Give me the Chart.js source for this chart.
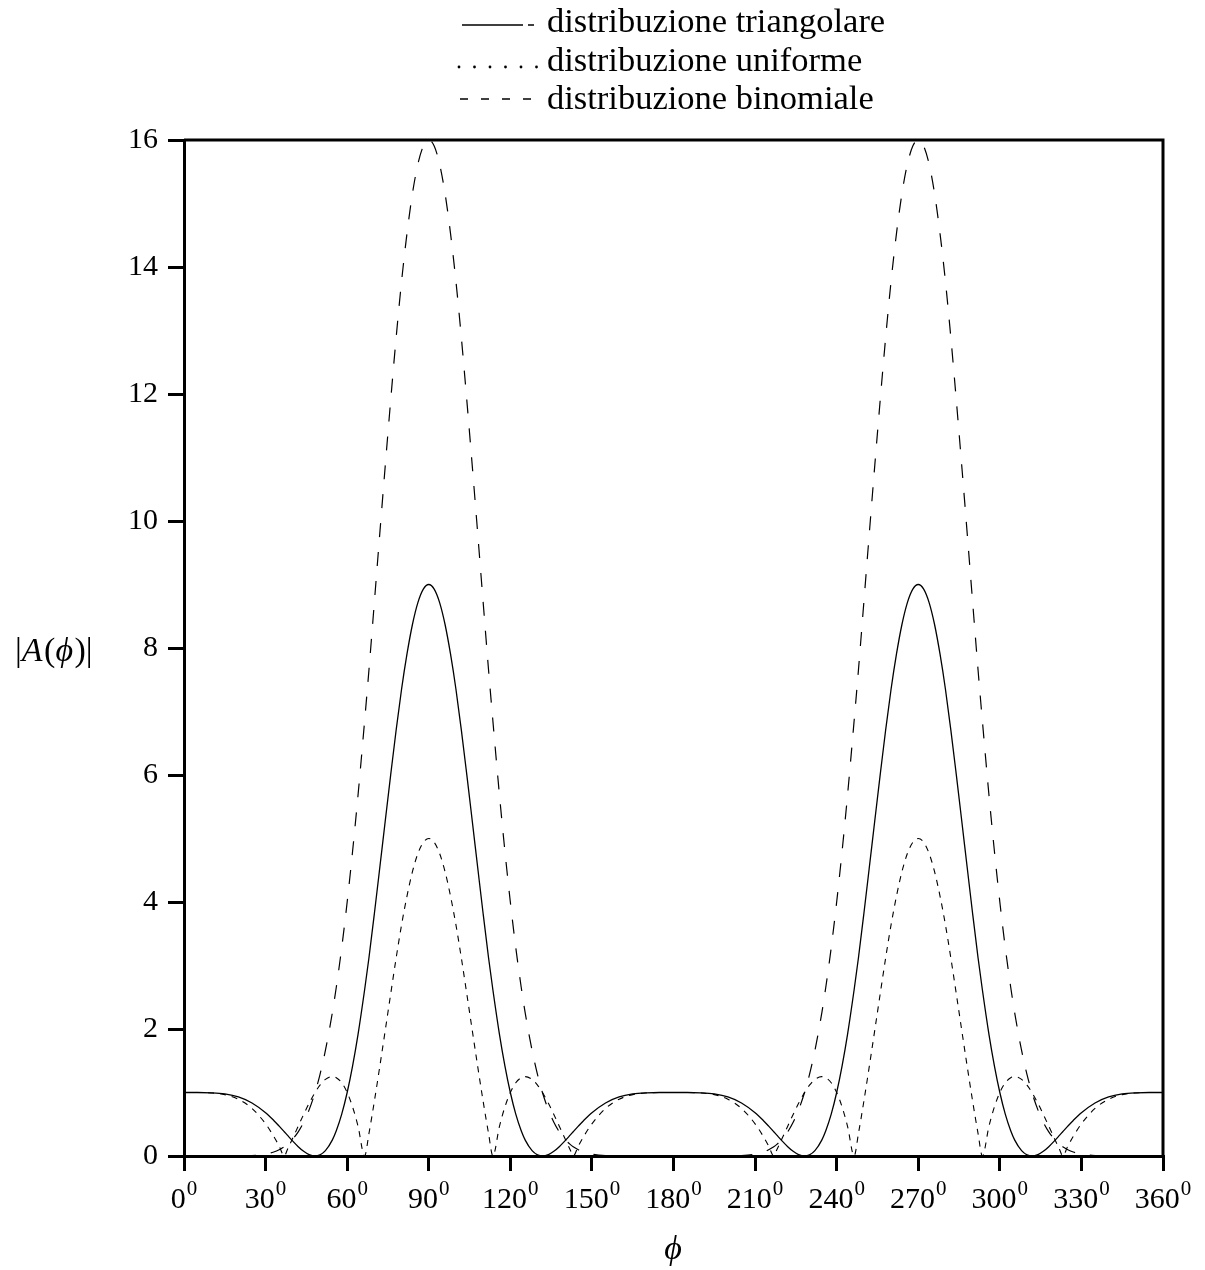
<!DOCTYPE html>
<html>
<head>
<meta charset="utf-8">
<script src="https://cdn.jsdelivr.net/npm/chart.js@4/dist/chart.umd.min.js"></script>
<style>
  html, body { margin: 0; padding: 0; background: #fff; }
  #myChart { display: block; }
</style>
</head>
<body>
<canvas id="myChart" width="1205" height="1270"></canvas>
<script>
// angle phi in degrees, values of |A(phi)|
const angles = [
    0, 5, 10, 15, 20, 25, 30, 33, 35, 36.87, 38, 40, 42, 44, 46, 48.19, 50, 52, 54.52, 56, 58, 60, 62, 64, 66.42, 68, 70, 72, 74, 76, 78, 80, 82, 84, 86, 88, 90,
    92, 94, 96, 98, 100, 102, 104, 106, 108, 110, 112, 113.58, 116, 118, 120, 122, 124, 125.48, 128, 130, 131.81, 134, 136, 138, 140, 142, 143.13, 145, 147, 150, 155, 160, 165, 170, 175, 180,
    185, 190, 195, 200, 205, 210, 213, 215, 216.87, 218, 220, 222, 224, 226, 228.19, 230, 232, 234.52, 236, 238, 240, 242, 244, 246.42, 248, 250, 252, 254, 256, 258, 260, 262, 264, 266, 268, 270,
    272, 274, 276, 278, 280, 282, 284, 286, 288, 290, 292, 293.58, 296, 298, 300, 302, 304, 305.48, 308, 310, 311.81, 314, 316, 318, 320, 322, 323.13, 325, 327, 330, 335, 340, 345, 350, 355, 360
];

const triangolare = [
    1, 1, 0.995, 0.977, 0.93, 0.835, 0.681, 0.56, 0.47, 0.382, 0.328, 0.234, 0.147, 0.074, 0.022, 0, 0.018, 0.084, 0.25, 0.397, 0.659, 1, 1.42, 1.916, 2.618, 3.118, 3.815, 4.543, 5.275, 6.001, 6.704, 7.35, 7.906, 8.37, 8.715, 8.928, 9,
    8.928, 8.715, 8.37, 7.906, 7.35, 6.704, 6.001, 5.275, 4.543, 3.815, 3.118, 2.618, 1.916, 1.42, 1, 0.659, 0.397, 0.25, 0.084, 0.018, 0, 0.022, 0.074, 0.147, 0.234, 0.328, 0.382, 0.47, 0.56, 0.681, 0.835, 0.93, 0.977, 0.995, 1, 1,
    1, 0.995, 0.977, 0.93, 0.835, 0.681, 0.56, 0.47, 0.382, 0.328, 0.234, 0.147, 0.074, 0.022, 0, 0.018, 0.084, 0.25, 0.397, 0.659, 1, 1.42, 1.916, 2.618, 3.118, 3.815, 4.543, 5.275, 6.001, 6.704, 7.35, 7.906, 8.37, 8.715, 8.928, 9,
    8.928, 8.715, 8.37, 7.906, 7.35, 6.704, 6.001, 5.275, 4.543, 3.815, 3.118, 2.618, 1.916, 1.42, 1, 0.659, 0.397, 0.25, 0.084, 0.018, 0, 0.022, 0.074, 0.147, 0.234, 0.328, 0.382, 0.47, 0.56, 0.681, 0.835, 0.93, 0.977, 0.995, 1, 1
];

const uniforme = [
    1, 1, 0.993, 0.966, 0.894, 0.749, 0.507, 0.309, 0.156, 0, 0.1, 0.282, 0.469, 0.655, 0.83, 1, 1.115, 1.206, 1.25, 1.233, 1.153, 1, 0.772, 0.468, 0, 0.352, 0.862, 1.411, 1.978, 2.551, 3.115, 3.639, 4.094, 4.477, 4.763, 4.94, 5,
    4.94, 4.763, 4.477, 4.094, 3.639, 3.115, 2.551, 1.978, 1.411, 0.862, 0.352, 0, 0.468, 0.772, 1, 1.153, 1.233, 1.25, 1.206, 1.115, 1, 0.83, 0.655, 0.469, 0.282, 0.1, 0, 0.156, 0.309, 0.507, 0.749, 0.894, 0.966, 0.993, 1, 1,
    1, 0.993, 0.966, 0.894, 0.749, 0.507, 0.309, 0.156, 0, 0.1, 0.282, 0.469, 0.655, 0.83, 1, 1.115, 1.206, 1.25, 1.233, 1.153, 1, 0.772, 0.468, 0, 0.352, 0.862, 1.411, 1.978, 2.551, 3.115, 3.639, 4.094, 4.477, 4.763, 4.94, 5,
    4.94, 4.763, 4.477, 4.094, 3.639, 3.115, 2.551, 1.978, 1.411, 0.862, 0.352, 0, 0.468, 0.772, 1, 1.153, 1.233, 1.25, 1.206, 1.115, 1, 0.83, 0.655, 0.469, 0.282, 0.1, 0, 0.156, 0.309, 0.507, 0.749, 0.894, 0.966, 0.993, 1, 1
];

const binomiale = [
    0, 0, 0, 0, 0.001, 0.007, 0.03, 0.063, 0.099, 0.146, 0.183, 0.267, 0.38, 0.531, 0.726, 1, 1.282, 1.662, 2.25, 2.658, 3.283, 4, 4.803, 5.685, 6.854, 7.649, 8.722, 9.805, 10.868, 11.9, 12.883, 13.772, 14.53, 15.156, 15.619, 15.904, 16,
    15.904, 15.619, 15.156, 14.53, 13.772, 12.883, 11.9, 10.868, 9.805, 8.722, 7.649, 6.854, 5.685, 4.803, 4, 3.283, 2.658, 2.25, 1.662, 1.282, 1, 0.726, 0.531, 0.38, 0.267, 0.183, 0.146, 0.099, 0.063, 0.03, 0.007, 0.001, 0, 0, 0, 0,
    0, 0, 0, 0.001, 0.007, 0.03, 0.063, 0.099, 0.146, 0.183, 0.267, 0.38, 0.531, 0.726, 1, 1.282, 1.662, 2.25, 2.658, 3.283, 4, 4.803, 5.685, 6.854, 7.649, 8.722, 9.805, 10.868, 11.9, 12.883, 13.772, 14.53, 15.156, 15.619, 15.904, 16,
    15.904, 15.619, 15.156, 14.53, 13.772, 12.883, 11.9, 10.868, 9.805, 8.722, 7.649, 6.854, 5.685, 4.803, 4, 3.283, 2.658, 2.25, 1.662, 1.282, 1, 0.726, 0.531, 0.38, 0.267, 0.183, 0.146, 0.099, 0.063, 0.03, 0.007, 0.001, 0, 0, 0, 0
];

const legendLabels = ['distribuzione triangolare', 'distribuzione uniforme', 'distribuzione binomiale'];
const xTickStep = 30;
const yTickStep = 2;

const FONT = '"Liberation Serif", "DejaVu Serif", serif';

function points(values) {
    return angles.map((a, i) => ({ x: a, y: values[i] }));
}

// frame, legend, degree tick labels and axis titles drawn by hand
const decorations = {
    id: 'decorations',
    afterDraw(chart) {
        const ctx = chart.ctx;
        const area = chart.chartArea;
        ctx.save();
        ctx.strokeStyle = '#000';
        ctx.fillStyle = '#000';

        // top and right edges of the box
        ctx.lineWidth = 3;
        ctx.beginPath();
        ctx.moveTo(area.left, area.top);
        ctx.lineTo(area.right, area.top);
        ctx.lineTo(area.right, area.bottom);
        ctx.stroke();

        // x tick labels with a superscript 0
        const xs = chart.scales.x;
        ctx.textBaseline = 'alphabetic';
        ctx.textAlign = 'left';
        xs.ticks.forEach((t) => {
            const px = xs.getPixelForValue(t.value);
            const main = String(t.value);
            ctx.font = '30px ' + FONT;
            const w1 = ctx.measureText(main).width;
            ctx.font = '21px ' + FONT;
            const w2 = ctx.measureText('0').width;
            const start = px - (w1 + w2 + 1) / 2;
            ctx.font = '30px ' + FONT;
            ctx.fillText(main, start, 1208);
            ctx.font = '21px ' + FONT;
            ctx.fillText('0', start + w1 + 1, 1195);
        });

        // legend
        ctx.font = '34.5px ' + FONT;
        const textX = 547;
        const rows = [32, 71, 109];
        legendLabels.forEach((label, i) => ctx.fillText(label, textX, rows[i]));

        ctx.lineWidth = 1.3;
        ctx.beginPath();
        ctx.moveTo(462, 25); ctx.lineTo(523, 25);
        ctx.moveTo(528, 25); ctx.lineTo(534, 25);
        ctx.stroke();
        for (let k = 0; k < 6; k++) {
            ctx.beginPath();
            ctx.arc(459 + k * 15.5, 67, 1.4, 0, Math.PI * 2);
            ctx.fill();
        }
        ctx.lineWidth = 1.6;
        ctx.beginPath();
        for (let k = 0; k < 4; k++) {
            ctx.moveTo(460 + k * 21, 99);
            ctx.lineTo(468 + k * 21, 99);
        }
        ctx.stroke();

        // y title |A(phi)|
        let x = 15;
        const yb = 661;
        const parts = [['|', ''], ['A', 'italic '], ['(', ''], ['\u03D5', 'italic '], [')|', '']];
        parts.forEach(([t, style]) => {
            ctx.font = style + '34px ' + FONT;
            ctx.fillText(t, x, yb);
            x += ctx.measureText(t).width + (style ? 1.5 : 0);
        });

        // x title phi
        ctx.font = 'italic 34px ' + FONT;
        ctx.textAlign = 'center';
        ctx.fillText('\u03D5', 673, 1259);
        ctx.restore();
    }
};

document.addEventListener('DOMContentLoaded', function () {
    const ctx = document.getElementById('myChart').getContext('2d');
    const data = {
        datasets: [{
            label: legendLabels[0],
            data: points(triangolare),
            borderColor: '#000',
            borderWidth: 1.3
        }, {
            label: legendLabels[1],
            data: points(uniforme),
            borderColor: '#000',
            borderWidth: 1.1,
            borderDash: [6, 6]
        }, {
            label: legendLabels[2],
            data: points(binomiale),
            borderColor: '#000',
            borderWidth: 1.2,
            borderDash: [14, 15]
        }]
    };

    const config = {
        type: 'line',
        data: data,
        options: {
            responsive: false,
            animation: false,
            layout: { padding: { top: 140, right: 42, left: 0, bottom: 0 } },
            elements: {
                point: { radius: 0 },
                line: { cubicInterpolationMode: 'monotone', fill: false }
            },
            plugins: {
                legend: { display: false },
                tooltip: { enabled: false }
            },
            scales: {
                x: {
                    type: 'linear',
                    min: 0,
                    max: 360,
                    afterFit: (scale) => { scale.height = 114; },
                    border: { display: true, color: '#000', width: 3 },
                    grid: { drawOnChartArea: false, drawTicks: true, tickLength: 15, color: '#000', lineWidth: 3 },
                    ticks: {
                        stepSize: xTickStep,
                        display: false
                    }
                },
                y: {
                    min: 0,
                    max: 16,
                    afterFit: (scale) => { scale.width = 184; },
                    border: { display: true, color: '#000', width: 3 },
                    grid: { drawOnChartArea: false, drawTicks: true, tickLength: 16, color: '#000', lineWidth: 3 },
                    ticks: {
                        stepSize: yTickStep,
                        padding: 10,
                        color: '#000',
                        font: { family: FONT, size: 30 }
                    }
                }
            }
        },
        plugins: [decorations]
    };

    new Chart(ctx, config);
});
</script>
</body>
</html>
